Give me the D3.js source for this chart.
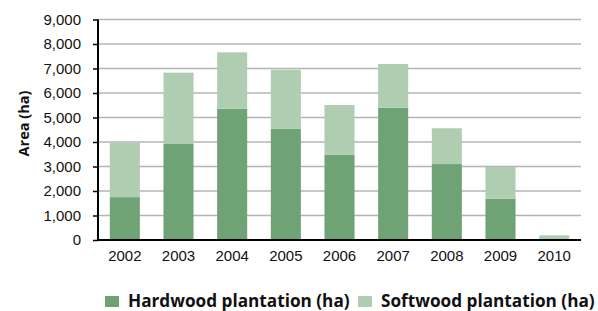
<!DOCTYPE html>
<html>
<head>
<meta charset="utf-8">
<script src="https://cdn.jsdelivr.net/npm/d3@7"></script>
<style>
  body { margin: 0; background: #fff; }
  svg { font-family: "Open Sans", "Noto Sans", sans-serif; }
</style>
</head>
<body>
<div id="chart"></div>
<script>
var years = ['2002', '2003', '2004', '2005', '2006', '2007', '2008', '2009', '2010'];
var hardwood = [1750, 3920, 5360, 4545, 3480, 5400, 3100, 1690, 0];
var softwood = [2220, 2910, 2300, 2405, 2030, 1785, 1460, 1290, 190];
var seriesNames = ['Hardwood plantation (ha)', 'Softwood plantation (ha)'];
var yTicks = [0, 1000, 2000, 3000, 4000, 5000, 6000, 7000, 8000, 9000];

(function(d3) {
  'use strict';
  var width = 598;
  var height = 311;
  var margin = { left: 98, right: 17, top: 19.5, bottom: 71 };
  var colors = ['#6fa375', '#afcdb0'];

  var svg = d3.select('#chart')
    .append('svg')
    .attr('width', width)
    .attr('height', height);

  var x = d3.scaleBand()
    .domain(years)
    .range([margin.left, width - margin.right])
    .paddingInner(0.44)
    .paddingOuter(0.22);

  var y = d3.scaleLinear()
    .domain([0, 9000])
    .range([height - margin.bottom, margin.top]);

  // gridlines
  svg.append('g')
    .selectAll('line')
    .data(yTicks.slice(1))
    .enter()
    .append('line')
    .attr('x1', margin.left)
    .attr('x2', width - margin.right)
    .attr('y1', function(d) { return y(d); })
    .attr('y2', function(d) { return y(d); })
    .attr('stroke', '#b4b4b4')
    .attr('stroke-width', 1.5);

  var table = years.map(function(yr, i) {
    return { year: yr, hardwood: hardwood[i], softwood: softwood[i] };
  });
  var stack = d3.stack().keys(['hardwood', 'softwood']);
  var layers = stack(table);

  svg.append('g')
    .selectAll('g')
    .data(layers)
    .enter()
    .append('g')
    .attr('fill', function(d, i) { return colors[i]; })
    .selectAll('rect')
    .data(function(d) { return d; })
    .enter()
    .append('rect')
    .attr('x', function(d) { return x(d.data.year); })
    .attr('width', x.bandwidth())
    .attr('y', function(d) { return y(d[1]); })
    .attr('height', function(d) { return y(d[0]) - y(d[1]); });

  // y axis
  var yAxis = svg.append('g')
    .attr('transform', 'translate(' + margin.left + ',0)')
    .call(d3.axisLeft(y).tickValues(yTicks).tickFormat(d3.format(',')).tickSize(5).tickPadding(12));
  yAxis.select('.domain').attr('stroke', '#000').attr('stroke-width', 2).attr('d', 'M0,' + y(9000) + 'V' + y(0));
  yAxis.selectAll('.tick line').attr('stroke', '#000').attr('stroke-width', 1.5);
  yAxis.selectAll('text').attr('font-size', 15).attr('fill', '#111');

  // x axis
  var xAxis = svg.append('g')
    .attr('transform', 'translate(0,' + y(0) + ')')
    .call(d3.axisBottom(x).tickSize(0).tickPadding(10));
  xAxis.select('.domain').attr('stroke', '#000').attr('stroke-width', 2)
    .attr('d', 'M' + (margin.left - 1) + ',0H' + (width - margin.right));
  xAxis.selectAll('text').attr('font-size', 15).attr('fill', '#111');

  svg.append('text')
    .attr('transform', 'translate(29,123.5) rotate(-90)')
    .attr('text-anchor', 'middle')
    .attr('font-size', 14.5)
    .attr('font-weight', 'bold')
    .attr('fill', '#111')
    .text('Area (ha)');

  // legend
  var legendX = [105, 358];
  var legend = svg.selectAll('.legend')
    .data(seriesNames)
    .enter()
    .append('g')
    .attr('class', 'legend')
    .attr('transform', function(d, i) {
      return 'translate(' + legendX[i] + ',296)';
    });
  legend.append('rect')
    .attr('width', 14)
    .attr('height', 11)
    .attr('fill', function(d, i) { return colors[i]; });
  legend.append('text')
    .attr('x', 23)
    .attr('y', 11)
    .attr('font-size', 17.2)
    .attr('font-weight', 'bold')
    .attr('fill', '#111')
    .text(function(d) { return d; });
})(window.d3);
</script>
</body>
</html>
